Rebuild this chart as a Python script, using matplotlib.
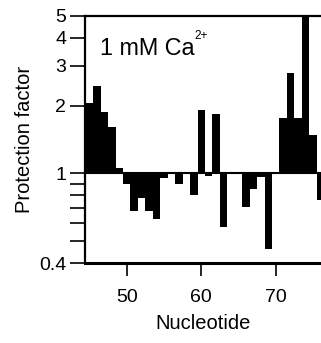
import matplotlib
matplotlib.use("Agg")
import matplotlib.pyplot as plt
import numpy as np
from matplotlib.ticker import FixedLocator, NullFormatter, FixedFormatter

plt.rcParams['font.family'] = ['Liberation Sans', 'DejaVu Sans']

nucleotides = list(range(45, 77))
protection = [2.05, 2.45, 1.87, 1.60, 1.06, 0.90, 0.68, 0.78, 0.68, 0.63,
              0.95, 1.01, 0.90, 1.00, 0.80, 1.92, 0.97, 1.84, 0.58, 0.99,
              1.01, 0.71, 0.85, 0.96, 0.46, 0.99, 1.77, 2.80, 1.77, 5.2,
              1.48, 0.76]
ytick_vals = [0.4, 1, 2, 3, 4, 5]
ytick_labels = ["0.4", "1", "2", "3", "4", "5"]
yminor_vals = [0.5, 0.6, 0.7, 0.8, 0.9]
xtick_vals = [50, 60, 70]

fig = plt.figure(figsize=(3.21, 3.43), dpi=100)
ax = fig.add_axes([0.265, 0.2332, 0.735, 0.7202])
ax.set_yscale('log')
vals = np.array(protection)
ax.bar(nucleotides, vals - 1, bottom=1, width=1.0, color='black', linewidth=0)
ax.axhline(1, color='black', lw=1.5)

ax.set_xlim(44.4, 76.08)
ax.set_ylim(0.4, 5)
ax.yaxis.set_major_locator(FixedLocator(ytick_vals))
ax.yaxis.set_major_formatter(FixedFormatter(ytick_labels))
ax.yaxis.set_minor_locator(FixedLocator(yminor_vals))
ax.yaxis.set_minor_formatter(NullFormatter())
ax.set_xticks(xtick_vals)
ax.tick_params(axis='y', which='both', direction='out', length=10.5, width=1.2,
               labelsize=14, pad=3)
ax.tick_params(axis='x', which='both', direction='out', length=9.5, width=1.2,
               labelsize=14, pad=9)

for s in ['left', 'top']:
    ax.spines[s].set_linewidth(1.6)
ax.spines['bottom'].set_linewidth(2.2)
ax.spines['right'].set_visible(False)

ax.set_ylabel("Protection factor", fontsize=14.5, labelpad=4)
ax.set_xlabel("Nucleotide", fontsize=14.5, labelpad=6)
ax.text(0.064, 0.842, "1 mM Ca", transform=ax.transAxes,
        fontsize=16.8, va='baseline', ha='left')
ax.text(0.463, 0.908, "2+", transform=ax.transAxes,
        fontsize=8.5, va='baseline', ha='left')

fig.savefig("out.png", dpi=100)
